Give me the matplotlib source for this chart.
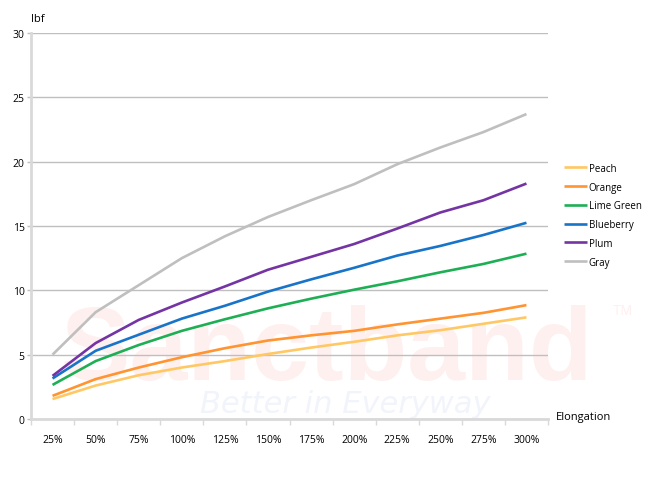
import matplotlib
matplotlib.use("Agg")
import matplotlib.pyplot as plt
import numpy as np

categories = ["25%", "50%", "75%", "100%", "125%", "150%", "175%", "200%", "225%", "250%", "275%", "300%"]
peach = [1.55, 2.6, 3.4, 4.0, 4.5, 5.05, 5.55, 6.0, 6.5, 6.9, 7.4, 7.9]
orange = [1.8, 3.1, 4.0, 4.8, 5.5, 6.1, 6.5, 6.85, 7.35, 7.8, 8.25, 8.85]
lime_green = [2.65, 4.5, 5.75, 6.85, 7.75, 8.6, 9.35, 10.05, 10.7, 11.4, 12.05, 12.85]
blueberry = [3.15, 5.3, 6.55, 7.8, 8.8, 9.9, 10.85, 11.75, 12.7, 13.45, 14.3, 15.25]
plum = [3.35, 5.9, 7.7, 9.05, 10.3, 11.6, 12.6, 13.6, 14.8, 16.05, 17.0, 18.3]
gray = [5.0, 8.3, 10.4, 12.5, 14.2, 15.7, 17.0, 18.25, 19.8, 21.1, 22.3, 23.7]

series = [("Peach", peach, "#FFC864"),
          ("Orange", orange, "#FF9430"),
          ("Lime Green", lime_green, "#1EAF55"),
          ("Blueberry", blueberry, "#1874C8"),
          ("Plum", plum, "#7434A4"),
          ("Gray", gray, "#BFBFBF")]

plt.rcParams['font.family'] = ['Open Sans', 'DejaVu Sans']
fig = plt.figure(figsize=(6.5, 4.89), dpi=100)
W, H = 650, 489
left, right, top, bottom = 31, 548, 34, 420

# watermark (behind the chart)
fig.text(61 / W, 1 - 380 / H, "Sanctband", fontsize=75, fontweight='bold', family='Liberation Sans',
         color='#FFF0F0', ha='left', va='baseline', zorder=-5)
fig.text(613 / W, 1 - 315 / H, "TM", fontsize=10, color='#FFF0F0', family='Liberation Sans',
         ha='left', va='baseline', zorder=-5)
fig.text(200 / W, 1 - 413 / H, "Better in Everyway", fontsize=22, fontstyle='italic',
         color='#F1F4FA', ha='left', va='baseline', zorder=-5, family='DejaVu Sans',
         fontweight='light')

ax = fig.add_axes([left / W, 1 - bottom / H, (right - left) / W, (bottom - top) / H])
ax.patch.set_alpha(0)

x = np.arange(len(categories))
for name, vals, col in series:
    ax.plot(x, vals, color=col, lw=1.9, label=name, solid_capstyle='butt', zorder=3)

ax.set_xlim(-0.5, len(categories) - 0.5)
ax.set_ylim(0, 30)
ax.set_yticks(np.arange(0, 31, 5))
ax.set_xticks(x)
ax.set_xticklabels(categories)
ax.set_xticks(np.arange(-0.5, len(categories), 1), minor=True)
ax.tick_params(axis='x', which='major', length=0, labelsize=7.5, pad=11, colors='#000000')
ax.tick_params(axis='x', which='minor', length=4, width=1, color='#D9D9D9')
ax.tick_params(axis='y', length=3, width=1, color='#BFBFBF', labelsize=7.5, pad=1.5)
ax.grid(axis='y', color='#BFBFBF', lw=1)
ax.set_axisbelow(True)
for s in ['top', 'right']:
    ax.spines[s].set_visible(False)
ax.spines['left'].set_color('#D9D9D9')
ax.spines['left'].set_linewidth(2)
ax.spines['bottom'].set_color('#D9D9D9')
ax.spines['bottom'].set_linewidth(2)

fig.text(31 / W, 1 - 20 / H, "lbf", fontsize=8, ha='left', va='center')
fig.text(556 / W, 1 - 418 / H, "Elongation", fontsize=8, ha='left', va='center')

leg = ax.legend(loc='upper left', bbox_to_anchor=(555 / W, 1 - 155 / H), bbox_transform=fig.transFigure,
                frameon=False, fontsize=7, handlelength=2.4, handletextpad=0.15,
                labelspacing=0.8)

fig.savefig("out.png", dpi=100)
